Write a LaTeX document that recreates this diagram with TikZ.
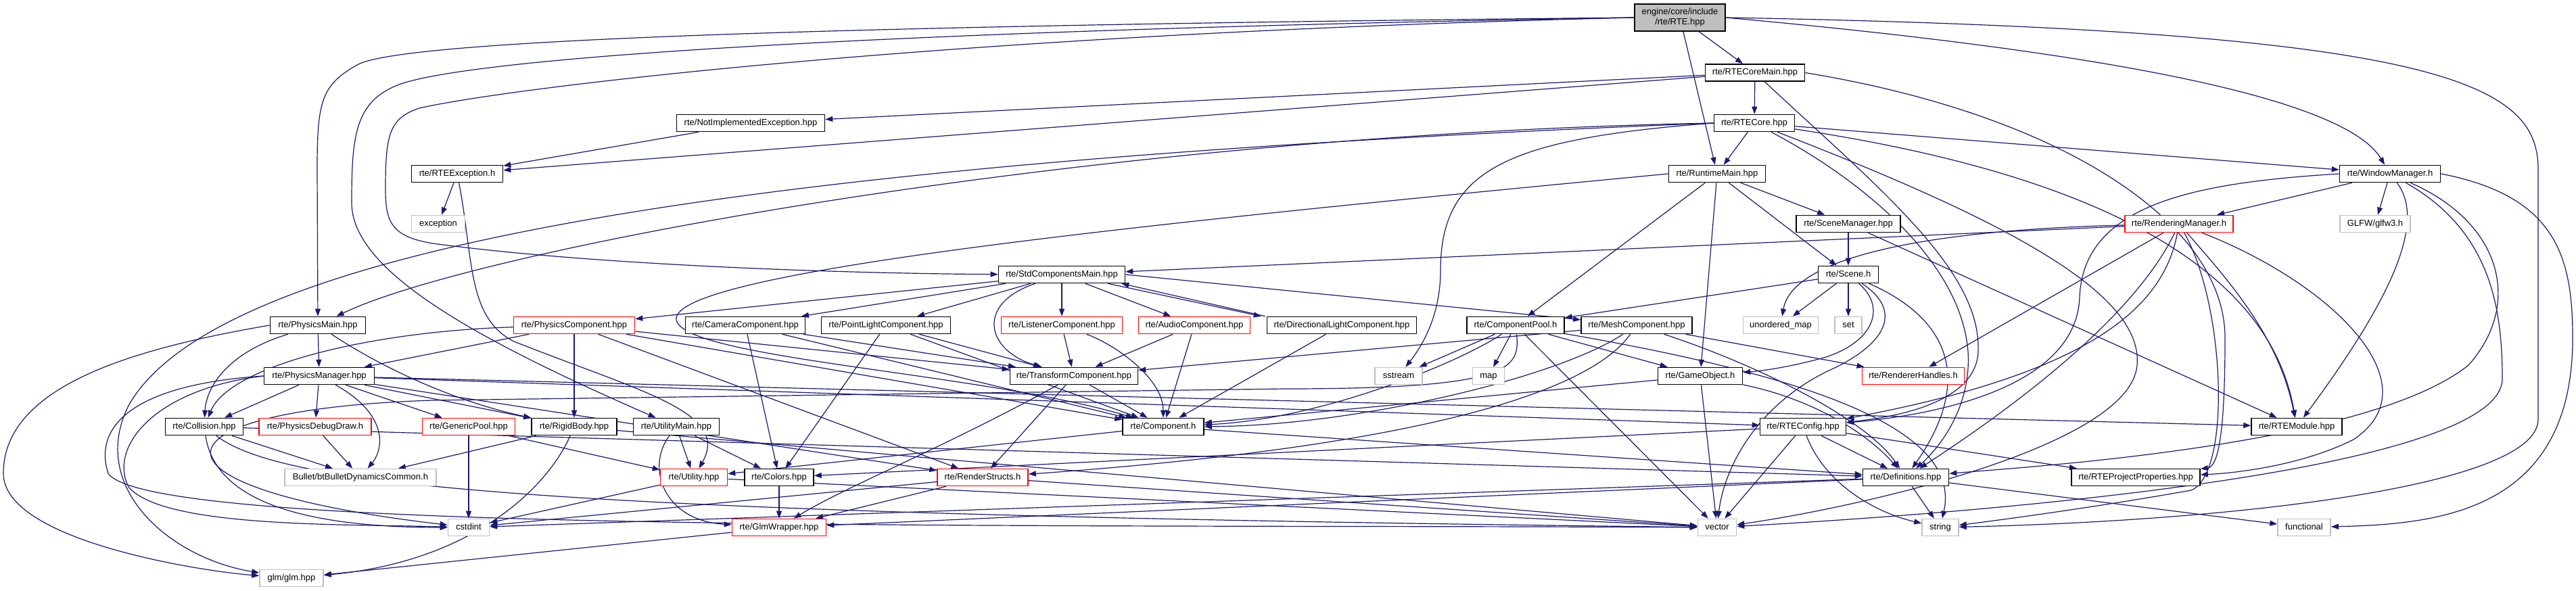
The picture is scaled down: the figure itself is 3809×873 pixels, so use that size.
\documentclass[tikz,border=0pt]{standalone}
\usepackage{fontspec}
\setmainfont{Liberation Sans}
\usetikzlibrary{arrows.meta}
\definecolor{edgeblue}{HTML}{191970}
\definecolor{boxgray}{HTML}{BFBFBF}
\definecolor{boxred}{HTML}{FF0000}
\newcommand{\nf}{\fontsize{13}{15}\selectfont}
\pgfdeclarelayer{back}
\pgfdeclarelayer{bg}
\pgfsetlayers{back,bg,main}
\tikzset{
  nbox/.style={draw=black, line width=1.6pt, fill=white, font=\nf, inner xsep=6pt, inner ysep=0pt, minimum height=25pt, text height=9.5pt, text depth=2.8pt},
  rbox/.style={nbox, draw=boxred},
  gbox/.style={nbox, draw=boxgray},
  dep/.style={draw=edgeblue, line width=1.2pt, -{Triangle[length=11pt,width=8pt]}}
}
\begin{document}
\begin{tikzpicture}[x=1pt,y=-1pt]
\begin{pgfonlayer}{back}
\fill[white] (0,0) rectangle (3809,873);
\end{pgfonlayer}
\useasboundingbox (0,0) rectangle (3809,873);
% ---------------- nodes ----------------
\node[draw=black, line width=1.6pt, fill=boxgray, font=\nf, align=center, minimum width=134pt, minimum height=40pt, inner sep=2pt] (RTE) at (2484,26) {engine/core/include\\/rte/RTE.hpp};
\node[nbox, minimum width=147pt] (RCM) at (2595,107.5) {rte/RTECoreMain.hpp};
\node[nbox, minimum width=219pt] (NIE) at (1110,182) {rte/NotImplementedException.hpp};
\node[nbox, minimum width=119pt] (RC) at (2594,182) {rte/RTECore.hpp};
\node[nbox, minimum width=135pt] (REX) at (676,257) {rte/RTEException.h};
\node[nbox, minimum width=143pt] (RM) at (2539,257) {rte/RuntimeMain.hpp};
\node[nbox, minimum width=149pt] (WM) at (3534,257) {rte/WindowManager.h};
\node[gbox, minimum width=79pt] (EXC) at (648,331) {exception};
\node[nbox, minimum width=154pt] (SM) at (2733,331) {rte/SceneManager.hpp};
\node[rbox, minimum width=160pt] (RMG) at (3222,331) {rte/RenderingManager.h};
\node[gbox, minimum width=104pt] (GLFW) at (3512,331) {GLFW/glfw3.h};
\node[nbox, minimum width=187pt] (SCM) at (1570,406) {rte/StdComponentsMain.hpp};
\node[nbox, minimum width=89pt] (SC) at (2733,406) {rte/Scene.h};
\node[nbox, minimum width=141pt] (PMN) at (470,481) {rte/PhysicsMain.hpp};
\node[rbox, minimum width=179pt] (PC) at (849,481) {rte/PhysicsComponent.hpp};
\node[nbox, minimum width=177pt] (CAM) at (1102,481) {rte/CameraComponent.hpp};
\node[nbox, minimum width=191pt] (PL) at (1310,481) {rte/PointLightComponent.hpp};
\node[rbox, minimum width=179pt] (LIS) at (1570,481) {rte/ListenerComponent.hpp};
\node[rbox, minimum width=165pt] (AUD) at (1766,481) {rte/AudioComponent.hpp};
\node[nbox, minimum width=221pt] (DL) at (1984,481) {rte/DirectionalLightComponent.hpp};
\node[nbox, minimum width=144pt] (CP) at (2241,481) {rte/ComponentPool.h};
\node[nbox, minimum width=164pt] (MESH) at (2420,481) {rte/MeshComponent.hpp};
\node[gbox, minimum width=111pt] (UMAP) at (2633,481) {unordered\_map};
\node[gbox, minimum width=40pt] (SET) at (2733,481) {set};
\node[nbox, minimum width=163pt] (PMG) at (472,556) {rte/PhysicsManager.hpp};
\node[nbox, minimum width=189pt] (TR) at (1588,556) {rte/TransformComponent.hpp};
\node[gbox, minimum width=70pt] (SS) at (2068,556) {sstream};
\node[gbox, minimum width=47pt] (MAP) at (2201,556) {map};
\node[nbox, minimum width=125pt] (GO) at (2514,556) {rte/GameObject.h};
\node[rbox, minimum width=151pt] (RH) at (2829,556) {rte/RendererHandles.h};
\node[nbox, minimum width=115pt] (COL) at (302,631) {rte/Collision.hpp};
\node[rbox, minimum width=166pt] (PDD) at (466,631) {rte/PhysicsDebugDraw.h};
\node[rbox, minimum width=137pt] (GP) at (693,631) {rte/GenericPool.hpp};
\node[nbox, minimum width=126pt] (RB) at (849,631) {rte/RigidBody.hpp};
\node[nbox, minimum width=127pt] (UM) at (1000,631) {rte/UtilityMain.hpp};
\node[nbox, minimum width=120pt] (CMP) at (1720,631) {rte/Component.h};
\node[nbox, minimum width=127pt] (CFG) at (2666,631) {rte/RTEConfig.hpp};
\node[nbox, minimum width=134pt] (MOD) at (3396,631) {rte/RTEModule.hpp};
\node[gbox, minimum width=224pt] (BUL) at (533,706) {Bullet/btBulletDynamicsCommon.h};
\node[rbox, minimum width=99pt] (UT) at (1026,706) {rte/Utility.hpp};
\node[nbox, minimum width=102pt] (CLR) at (1152,706) {rte/Colors.hpp};
\node[rbox, minimum width=134pt] (RS) at (1453,706) {rte/RenderStructs.h};
\node[nbox, minimum width=127pt] (DEF) at (2818,706) {rte/Definitions.hpp};
\node[nbox, minimum width=190pt] (RPP) at (3158,706) {rte/RTEProjectProperties.hpp};
\node[gbox, minimum width=61pt] (CST) at (693,780) {cstdint};
\node[rbox, minimum width=139pt] (GW) at (1152,780) {rte/GlmWrapper.hpp};
\node[gbox, minimum width=57pt] (VEC) at (2539,780) {vector};
\node[gbox, minimum width=54pt] (STR) at (2869,780) {string};
\node[gbox, minimum width=78pt] (FUN) at (3407,780) {functional};
\node[gbox, minimum width=94pt] (GLM) at (431,855) {glm/glm.hpp};
% ---------------- edges ----------------
\begin{pgfonlayer}{bg}
% RTE.hpp
\draw[dep] (RTE) -- (RCM);
\draw[dep] (RTE) -- (RM);
\draw[dep] (RTE.east) .. controls (3150,80) and (3470,150) .. (WM);
\draw[dep] (RTE.west) .. controls (1200,38) and (600,60) .. (530,95) .. controls (475,125) and (469,150) .. (469,250) -- (PMN);
\draw[dep] (RTE.west) .. controls (1300,45) and (700,85) .. (590,125) .. controls (525,150) and (520,200) .. (520,300) .. controls (520,400) and (700,500) .. (UM);
\draw[dep] (RTE.west) .. controls (1400,50) and (750,130) .. (620,160) .. controls (575,175) and (570,200) .. (570,280) .. controls (570,330) and (580,350) .. (640,360) .. controls (900,395) and (1300,405) .. (SCM);
\draw[dep] (RTE.east) .. controls (3600,45) and (3753,120) .. (3753,250) -- (3753,620) .. controls (3753,720) and (3300,770) .. (STR);
% RTECoreMain
\draw[dep] (RCM) -- (NIE);
\draw[dep] (RCM) -- (RC);
\draw[dep] (RCM) -- (REX);
\draw[dep] (RCM) .. controls (2780,280) and (2930,400) .. (2925,520) .. controls (2922,590) and (2820,615) .. (CFG);
\draw[dep] (RCM.east) .. controls (3050,170) and (3290,330) .. (3290,500) .. controls (3290,640) and (3280,690) .. (RPP);
% NotImplementedException / RTEException
\draw[dep] (NIE) -- (REX);
\draw[dep] (REX) -- (EXC);
\draw[dep] (REX) .. controls (700,380) and (690,470) .. (760,505) .. controls (950,580) and (1080,610) .. (UT);
% RTECore
\draw[dep] (RC) -- (RM);
\draw[dep] (RC) -- (WM);
\draw[dep] (RC.west) .. controls (1600,200) and (700,370) .. (PMN);
\draw[dep] (RC.west) .. controls (1200,235) and (330,350) .. (190,600) .. controls (130,720) and (250,825) .. (GLM);
\draw[dep] (RC.west) .. controls (2230,205) and (2130,250) .. (2130,400) .. controls (2130,470) and (2100,515) .. (SS);
\draw[dep] (RC) .. controls (2760,270) and (2900,390) .. (2910,520) .. controls (2915,600) and (2870,660) .. (DEF);
\draw[dep] (RC) .. controls (3150,265) and (3360,420) .. (MOD);
\draw[dep] (RC) .. controls (2950,320) and (3170,430) .. (3160,540) .. controls (3150,660) and (2750,750) .. (VEC);
% RuntimeMain
\draw[dep] (RM) -- (SM);
\draw[dep] (RM) -- (SC);
\draw[dep] (RM) -- (CP);
\draw[dep] (RM) -- (GO);
\draw[dep] (RM.west) .. controls (1700,330) and (1010,400) .. (1000,470) .. controls (995,530) and (1450,550) .. (CMP);
% WindowManager
\draw[dep] (WM) -- (RMG);
\draw[dep] (WM) -- (GLFW);
\draw[dep] (WM) .. controls (3590,330) and (3530,450) .. (MOD);
\draw[dep] (WM) .. controls (3680,340) and (3700,450) .. (3700,560) .. controls (3700,700) and (2900,760) .. (VEC);
\draw[dep] (WM) .. controls (3700,330) and (3730,450) .. (3650,540) .. controls (3500,660) and (3000,690) .. (DEF);
\draw[dep] (WM.east) .. controls (3780,290) and (3804,380) .. (3804,500) .. controls (3804,760) and (3600,775) .. (FUN);
\draw[dep] (WM.west) .. controls (3250,270) and (3080,300) .. (3075,440) .. controls (3070,560) and (2900,610) .. (CFG);
% RenderingManager
\draw[dep] (RMG) -- (SCM);
\draw[dep] (RMG) .. controls (2850,340) and (2650,380) .. (UMAP);
\draw[dep] (RMG) -- (RH);
\draw[dep] (RMG) .. controls (3200,450) and (3100,550) .. (CFG);
\draw[dep] (RMG) .. controls (3300,420) and (3370,500) .. (MOD);
\draw[dep] (RMG) .. controls (3450,420) and (3600,570) .. (3480,650) .. controls (3400,690) and (3300,700) .. (RPP);
\draw[dep] (RMG) .. controls (3290,450) and (3300,700) .. (3240,725) .. controls (3100,750) and (2950,770) .. (STR);
\draw[dep] (RMG) .. controls (3150,480) and (2950,620) .. (DEF);
% SceneManager, Scene
\draw[dep] (SM) -- (SC);
\draw[dep] (SM) -- (MOD);
\draw[dep] (SC) -- (CP);
\draw[dep] (SC) -- (UMAP);
\draw[dep] (SC) -- (SET);
\draw[dep] (SC) .. controls (2790,455) and (2770,505) .. (2700,528) .. controls (2650,542) and (2610,548) .. (GO);
\draw[dep] (SC) .. controls (2815,460) and (2790,510) .. (2700,550) .. controls (2590,605) and (2548,700) .. (VEC);
\draw[dep] (SC) .. controls (2880,470) and (2920,560) .. (DEF);
% ComponentPool
\draw[dep] (CP) -- (SS);
\draw[dep] (CP) -- (MAP);
\draw[dep] (CP) -- (GO);
\draw[dep] (CP) -- (VEC);
\draw[dep] (CP) .. controls (2700,560) and (2900,640) .. (STR);
\draw[dep] (CP) .. controls (2150,540) and (1950,620) .. (CMP);
\draw[dep] (CP) .. controls (2248,545) and (2235,575) .. (1900,575) -- (640,592) .. controls (220,605) and (180,720) .. (CST);
% GameObject
\draw[dep] (GO) -- (CMP);
\draw[dep] (GO) .. controls (2680,590) and (2760,640) .. (DEF);
\draw[dep] (GO) -- (VEC);
% TransformComponent, Component
\draw[dep] (TR) -- (CMP);
\draw[dep] (TR) -- (RS);
\draw[dep] (TR) .. controls (1400,660) and (1250,720) .. (GW);
\draw[dep] (CMP) -- (DEF);
\draw[dep] (CMP) -- (UT);
% Utility group
\draw[dep] (UM) -- (UT);
\draw[dep] (UM) -- (CLR);
\draw[dep] (UM) .. controls (955,690) and (980,770) .. (GW);
\draw[dep] (UT) -- (CST);
\draw[dep] (UT) -- (VEC);
\draw[dep] (CLR) -- (GW);
\draw[dep] (GW) -- (GLM);
\draw[dep] (RS) -- (CST);
\draw[dep] (RS) -- (VEC);
\draw[dep] (RS) -- (GW);
% RigidBody, GenericPool
\draw[dep] (RB) .. controls (810,720) and (700,830) .. (GLM);
\draw[dep] (RB) -- (BUL);
\draw[dep] (RB) -- (VEC);
\draw[dep] (GP) -- (CST);
\draw[dep] (GP) -- (UT);
% Collision, PhysicsDebugDraw
\draw[dep] (COL) -- (BUL);
\draw[dep] (COL) .. controls (315,720) and (400,780) .. (CST);
\draw[dep] (COL) .. controls (420,720) and (800,760) .. (VEC);
\draw[dep] (COL) -- (DEF);
\draw[dep] (PDD) -- (BUL);
% PhysicsMain
\draw[dep] (PMN) -- (PMG);
\draw[dep] (PMN) .. controls (340,520) and (305,570) .. (COL);
\draw[dep] (PMN) .. controls (590,560) and (700,600) .. (RB);
\draw[dep] (PMN.west) .. controls (200,515) and (5,570) .. (5,700) .. controls (5,800) and (300,845) .. (GLM);
% PhysicsManager
\draw[dep] (PMG) -- (COL);
\draw[dep] (PMG) -- (PDD);
\draw[dep] (PMG) .. controls (570,610) and (570,660) .. (BUL);
\draw[dep] (PMG) -- (GP);
\draw[dep] (PMG) -- (RB);
\draw[dep] (PMG) -- (CFG);
\draw[dep] (PMG) -- (MOD);
\draw[dep] (PMG) -- (RS);
\draw[dep] (PMG.west) .. controls (230,575) and (160,660) .. (190,720) .. controls (240,780) and (500,775) .. (CST);
\draw[dep] (PMG.west) .. controls (180,570) and (140,640) .. (160,700) .. controls (220,790) and (1500,775) .. (VEC);
% StdComponentsMain
\draw[dep] (SCM) -- (PC);
\draw[dep] (SCM) -- (CAM);
\draw[dep] (SCM) -- (PL);
\draw[dep] (SCM) .. controls (1440,450) and (1460,520) .. (TR);
\draw[dep] (SCM) -- (LIS);
\draw[dep] (SCM) -- (AUD);
\draw[dep] ([xshift=-26pt]SCM.south east) -- ([xshift=-8pt]DL.north west);
\draw[dep] ([xshift=-2pt]DL.north west) -- ([xshift=-6pt]SCM.south east);
\draw[dep] (SCM.east) -- (MESH);
% component headers
\draw[dep] (PC) .. controls (550,490) and (340,540) .. (COL);
\draw[dep] (PC) -- (PMG);
\draw[dep] (PC) -- (RB);
\draw[dep] (PC) -- (TR);
\draw[dep] (PC) -- (CMP);
\draw[dep] (PC) -- (RS);
\draw[dep] (CAM) -- (CLR);
\draw[dep] (CAM) -- (TR);
\draw[dep] (CAM) -- (CMP);
\draw[dep] (PL) -- (CLR);
\draw[dep] (PL) -- (TR);
\draw[dep] (PL) -- (CMP);
\draw[dep] (LIS) -- (TR);
\draw[dep] (LIS) .. controls (1650,510) and (1720,560) .. (CMP);
\draw[dep] (AUD) -- (TR);
\draw[dep] (AUD) -- (CMP);
\draw[dep] (DL) -- (CMP);
\draw[dep] (MESH) -- (TR);
\draw[dep] (MESH) .. controls (2300,560) and (2000,630) .. (CMP);
\draw[dep] (MESH) .. controls (2350,580) and (2100,660) .. (RS);
\draw[dep] (MESH) -- (RH);
\draw[dep] (MESH) .. controls (2600,540) and (2760,620) .. (DEF);
% RTEConfig, Definitions
\draw[dep] (CFG) -- (DEF);
\draw[dep] (CFG) -- (VEC);
\draw[dep] (CFG) .. controls (2700,720) and (2780,760) .. (STR);
\draw[dep] (CFG) -- (RPP);
\draw[dep] (CFG) -- (CLR);
\draw[dep] (DEF) -- (CST);
\draw[dep] (DEF) -- (STR);
\draw[dep] (DEF) -- (FUN);
\draw[dep] (DEF) -- (GW);
\end{pgfonlayer}
\end{tikzpicture}
\end{document}
